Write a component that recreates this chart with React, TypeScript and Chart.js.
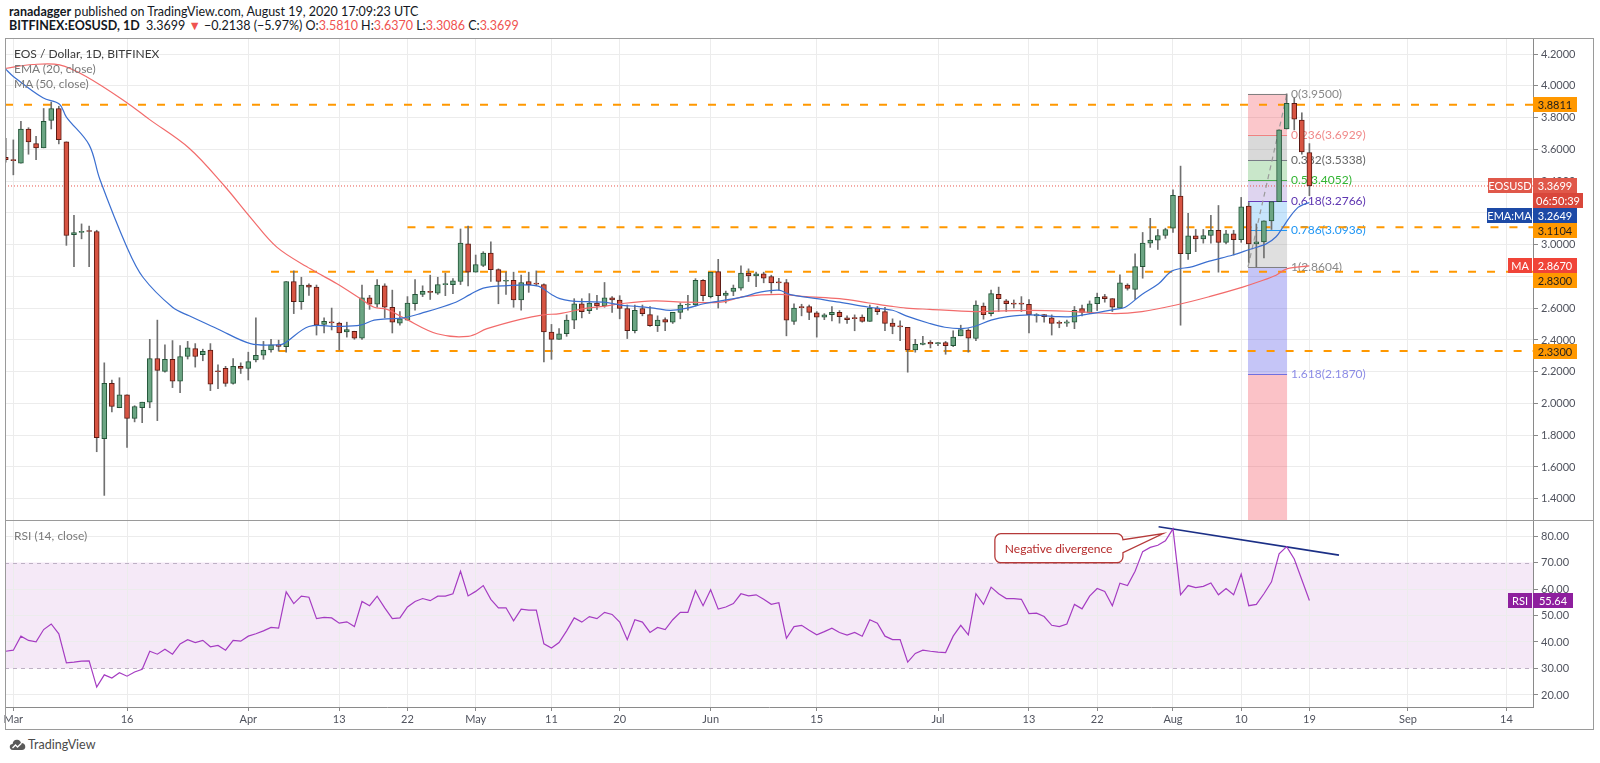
import React, { useEffect, useRef } from "react";
import { Chart, registerables } from "chart.js";

Chart.register(...registerables);

const FONT = "Lato, 'Open Sans', 'Liberation Sans', sans-serif";
Chart.defaults.font.family = FONT;

// ---- DATA (day 0 = 1 Mar 2020, first candle = 29 Feb 2020) ----
const FIRST_DAY = -1;

const opens = [
  3.55, 3.535, 3.513, 3.729, 3.637, 3.61, 3.783, 3.858, 3.648, 3.064,
  3.077, 3.085, 3.083, 1.779, 2.127, 1.973, 2.054, 1.906, 1.973, 2.008,
  2.283, 2.202, 2.278, 2.14, 2.296, 2.345, 2.307, 2.337, 2.205, 2.221,
  2.127, 2.234, 2.221, 2.275, 2.304, 2.337, 2.369, 2.358, 2.768, 2.641,
  2.746, 2.733, 2.498, 2.512, 2.506, 2.45, 2.455, 2.412, 2.665, 2.625,
  2.741, 2.606, 2.506, 2.525, 2.628, 2.687, 2.706, 2.695, 2.749, 2.749,
  2.768, 3.005, 2.827, 2.87, 2.948, 2.843, 2.77, 2.776, 2.652, 2.768,
  2.754, 2.749, 2.45, 2.404, 2.439, 2.525, 2.628, 2.585, 2.633, 2.614,
  2.665, 2.652, 2.598, 2.458, 2.598, 2.56, 2.49, 2.528, 2.512, 2.574,
  2.62, 2.62, 2.776, 2.673, 2.83, 2.681, 2.706, 2.727, 2.821, 2.803,
  2.816, 2.8, 2.762, 2.762, 2.517, 2.606, 2.611, 2.571, 2.544, 2.56,
  2.574, 2.539, 2.536, 2.544, 2.517, 2.601, 2.579, 2.506, 2.483, 2.479,
  2.337, 2.372, 2.385, 2.377, 2.383, 2.364, 2.426, 2.463, 2.409, 2.614,
  2.566, 2.687, 2.646, 2.628, 2.628, 2.625, 2.552, 2.56, 2.539, 2.506,
  2.506, 2.512, 2.598, 2.571, 2.628, 2.673, 2.66, 2.601, 2.745, 2.719,
  2.862, 3.01, 3.029, 3.058, 3.104, 3.306, 2.943, 3.056, 3.037, 3.058,
  3.091, 3.015, 3.069, 3.031, 3.244, 3.005, 3.018, 3.15, 3.271, 3.729,
  3.89, 3.785, 3.581,
];
const highs = [
  3.67, 3.66, 3.777, 3.737, 3.683, 3.858, 3.898, 3.872, 3.648, 3.185,
  3.131, 3.118, 3.091, 2.256, 2.148, 2.162, 2.054, 1.986, 2.008, 2.404,
  2.525, 2.369, 2.396, 2.364, 2.391, 2.377, 2.342, 2.377, 2.243, 2.234,
  2.283, 2.256, 2.323, 2.539, 2.391, 2.404, 2.399, 2.768, 2.835, 2.795,
  2.754, 2.746, 2.539, 2.601, 2.512, 2.512, 2.455, 2.746, 2.681, 2.781,
  2.754, 2.714, 2.579, 2.673, 2.781, 2.741, 2.808, 2.795, 2.821, 2.787,
  3.099, 3.118, 2.935, 2.956, 3.018, 2.848, 2.827, 2.827, 2.808, 2.827,
  2.835, 2.754, 2.498, 2.471, 2.558, 2.66, 2.66, 2.692, 2.681, 2.762,
  2.673, 2.679, 2.62, 2.62, 2.62, 2.611, 2.552, 2.539, 2.574, 2.633,
  2.681, 2.786, 2.781, 2.827, 2.908, 2.708, 2.746, 2.867, 2.848, 2.827,
  2.827, 2.808, 2.789, 2.781, 2.628, 2.625, 2.62, 2.579, 2.566, 2.611,
  2.585, 2.552, 2.558, 2.558, 2.62, 2.611, 2.606, 2.533, 2.52, 2.479,
  2.404, 2.423, 2.396, 2.385, 2.391, 2.458, 2.493, 2.471, 2.646, 2.633,
  2.714, 2.733, 2.655, 2.652, 2.673, 2.655, 2.566, 2.56, 2.558, 2.52,
  2.525, 2.611, 2.62, 2.646, 2.695, 2.687, 2.66, 2.81, 2.754, 2.943,
  3.077, 3.166, 3.096, 3.104, 3.346, 3.495, 3.198, 3.096, 3.096, 3.185,
  3.247, 3.091, 3.091, 3.298, 3.266, 3.131, 3.15, 3.271, 3.723, 3.95,
  3.925, 3.831, 3.637,
];
const lows = [
  3.52, 3.44, 3.513, 3.57, 3.535, 3.61, 3.729, 3.635, 2.996, 2.862,
  3.037, 2.862, 1.696, 1.421, 1.946, 1.973, 1.723, 1.884, 1.879, 1.973,
  1.892, 2.197, 2.1, 2.068, 2.28, 2.229, 2.269, 2.081, 2.094, 2.108,
  2.121, 2.189, 2.148, 2.261, 2.278, 2.323, 2.33, 2.323, 2.566, 2.593,
  2.681, 2.431, 2.444, 2.463, 2.337, 2.418, 2.404, 2.404, 2.593, 2.606,
  2.539, 2.444, 2.493, 2.525, 2.587, 2.673, 2.655, 2.687, 2.679, 2.692,
  2.749, 2.741, 2.827, 2.862, 2.768, 2.628, 2.687, 2.606, 2.587, 2.7,
  2.741, 2.261, 2.278, 2.404, 2.423, 2.471, 2.539, 2.566, 2.593, 2.606,
  2.574, 2.533, 2.409, 2.444, 2.552, 2.485, 2.453, 2.458, 2.504, 2.533,
  2.587, 2.614, 2.646, 2.665, 2.601, 2.633, 2.679, 2.714, 2.768, 2.735,
  2.76, 2.695, 2.714, 2.426, 2.498, 2.552, 2.528, 2.418, 2.528, 2.52,
  2.506, 2.504, 2.458, 2.512, 2.517, 2.56, 2.458, 2.439, 2.396, 2.197,
  2.323, 2.369, 2.35, 2.364, 2.31, 2.358, 2.426, 2.323, 2.396, 2.531,
  2.552, 2.579, 2.579, 2.601, 2.579, 2.444, 2.512, 2.512, 2.431, 2.477,
  2.485, 2.471, 2.552, 2.566, 2.585, 2.638, 2.579, 2.601, 2.714, 2.655,
  2.789, 2.983, 2.97, 3.04, 3.077, 2.493, 2.908, 2.956, 3.01, 3.01,
  2.827, 3.005, 2.935, 3.015, 2.889, 2.8604, 2.916, 3.096, 3.271, 3.729,
  3.723, 3.57, 3.3086,
];
const closes = [
  3.535, 3.53, 3.729, 3.648, 3.61, 3.777, 3.858, 3.661, 3.058, 3.077,
  3.085, 3.083, 1.785, 2.127, 1.981, 2.054, 1.906, 1.981, 2.008, 2.283,
  2.208, 2.278, 2.14, 2.296, 2.35, 2.296, 2.329, 2.121, 2.2, 2.127,
  2.234, 2.221, 2.264, 2.304, 2.337, 2.369, 2.36, 2.768, 2.641, 2.746,
  2.733, 2.493, 2.517, 2.508, 2.444, 2.466, 2.412, 2.665, 2.625, 2.746,
  2.606, 2.512, 2.533, 2.633, 2.687, 2.706, 2.7, 2.749, 2.752, 2.773,
  3.01, 2.827, 2.875, 2.948, 2.843, 2.768, 2.773, 2.652, 2.762, 2.749,
  2.752, 2.45, 2.404, 2.439, 2.525, 2.628, 2.579, 2.633, 2.614, 2.665,
  2.652, 2.598, 2.458, 2.587, 2.566, 2.49, 2.525, 2.512, 2.574, 2.62,
  2.622, 2.776, 2.679, 2.827, 2.679, 2.695, 2.727, 2.821, 2.803, 2.816,
  2.789, 2.76, 2.76, 2.525, 2.601, 2.604, 2.574, 2.544, 2.558, 2.574,
  2.547, 2.528, 2.534, 2.517, 2.601, 2.579, 2.504, 2.485, 2.482, 2.337,
  2.372, 2.38, 2.375, 2.378, 2.364, 2.418, 2.466, 2.412, 2.62, 2.56,
  2.692, 2.66, 2.628, 2.626, 2.626, 2.56, 2.56, 2.547, 2.504, 2.504,
  2.515, 2.587, 2.574, 2.628, 2.668, 2.66, 2.606, 2.76, 2.725, 2.862,
  3.01, 3.029, 3.058, 3.096, 3.311, 2.943, 3.056, 3.037, 3.058, 3.091,
  3.015, 3.069, 3.031, 3.239, 3.005, 3.018, 3.15, 3.271, 3.723, 3.89,
  3.791, 3.5837, 3.3699,
];

const rsiValues = [
  36.5, 36.9, 42.2, 40.6, 40.1, 44.7, 46.8, 43.1, 32.1, 32.4,
  32.8, 32.9, 23.0, 27.6, 26.4, 28.4, 27.1, 28.7, 29.7, 36.5,
  35.4, 37.3, 35.4, 39.3, 40.9, 39.8, 40.6, 38.2, 38.7, 36.9,
  40.6, 40.3, 42.2, 43.1, 44.2, 45.5, 45.2, 58.9, 54.5, 57.3,
  56.9, 48.8, 49.3, 49.1, 47.1, 47.6, 45.8, 55.3, 53.7, 57.3,
  52.9, 48.8, 49.1, 53.2, 55.3, 56.4, 55.6, 57.3, 57.3, 58.2,
  66.7, 57.4, 59.1, 61.3, 56.1, 52.9, 52.9, 48.0, 52.4, 52.0,
  52.0, 39.3, 37.7, 39.8, 44.2, 49.1, 47.5, 49.6, 48.8, 51.2,
  50.4, 47.5, 40.9, 48.4, 47.5, 43.6, 45.5, 44.7, 48.4, 51.2,
  51.2, 59.4, 53.7, 59.7, 52.4, 53.2, 54.5, 58.2, 57.4, 57.8,
  56.1, 54.2, 54.8, 41.4, 45.8, 46.3, 44.4, 42.7, 43.9, 45.2,
  43.6, 42.6, 43.6, 42.2, 48.4, 47.1, 42.2, 40.9, 40.9, 32.4,
  35.7, 36.9, 36.5, 36.2, 36.0, 42.2, 46.3, 42.7, 58.2, 54.2,
  60.7, 58.2, 56.4, 56.4, 56.1, 50.7, 50.9, 49.6, 46.3, 45.8,
  46.8, 54.2, 52.5, 57.3, 60.2, 59.1, 53.7, 62.2, 61.3, 66.7,
  74.1, 75.7, 76.5, 78.2, 82.7, 57.8, 61.3, 60.5, 61.0, 62.3,
  57.8, 60.2, 57.8, 65.6, 53.7, 54.2, 58.2, 62.7, 73.3, 76.0,
  71.3, 63.5, 55.64,
];

// EMA(20) (day, value)
const emaDays = [
  -1.1, 0, 3.9, 6.1, 7.0, 10.0, 11.4, 15.0, 17.1, 21.0, 23.2, 26.9, 31.3, 34.8, 35.7,
  39.0, 42.7, 45.8, 47.6, 49.3, 51.5, 53.7, 58.1, 60.3, 62.0, 64.7, 69.1, 71.0, 72.1,
  73.5, 75.7, 77.9, 80.1, 82.3, 84.5, 86.7, 88.9, 91.1, 93.3, 96.4, 98.4, 101.0, 102.4,
  106.0, 109.0, 112.9, 116.0, 117.8, 120.9, 122.9, 125.1, 126.8, 129.0, 131.2, 134.1,
  137.8, 139.6, 142.2, 145.3, 146.7, 148.9, 151.1, 152.9, 155.6, 157.8, 160.9, 163.1,
  165.3, 166.6, 167.5, 168.5, 169.5, 170.3, 171,
];
const emaValues = [
  4.11, 4.06, 3.925, 3.885, 3.804, 3.629, 3.414, 2.983, 2.795, 2.606, 2.552, 2.471, 2.377, 2.369, 2.377,
  2.485, 2.485, 2.493, 2.525, 2.533, 2.539, 2.566, 2.633, 2.687, 2.727, 2.741, 2.741, 2.687, 2.66,
  2.646, 2.641, 2.638, 2.62, 2.611, 2.601, 2.587, 2.601, 2.628, 2.646, 2.673, 2.7, 2.714, 2.687,
  2.66, 2.638, 2.606, 2.587, 2.552, 2.504, 2.48, 2.471, 2.485, 2.525, 2.547, 2.558,
  2.547, 2.547, 2.566, 2.593, 2.606, 2.687, 2.754, 2.835, 2.862, 2.897, 2.935, 2.97,
  3.005, 3.05, 3.11, 3.18, 3.235, 3.255, 3.2649,
];

// MA(50) (day, value)
const maDays = [
  -1.1, 2.6, 6.1, 9.6, 14.9, 17.9, 23.2, 27.8, 31.3, 34.8, 39.2, 42.7, 45.8, 47.6, 49.3,
  51.5, 55.9, 60.0, 62.5, 66.9, 69.9, 72.1, 75.7, 77.9, 80.1, 84.5, 88.9, 93.3, 96.4,
  101.0, 104.6, 109.0, 112.9, 116.0, 117.8, 120.9, 126.8, 134.1, 140.0, 145.3, 148.9,
  153.4, 157.8, 162.2, 164.4, 166.6, 168.0, 171,
];
const maValues = [
  4.11, 4.135, 4.133, 4.06, 3.898, 3.791, 3.608, 3.373, 3.171, 2.983, 2.848, 2.754, 2.66, 2.606, 2.593,
  2.539, 2.439, 2.423, 2.471, 2.53, 2.558, 2.566, 2.601, 2.611, 2.628, 2.646, 2.638, 2.638, 2.673,
  2.687, 2.673, 2.66, 2.633, 2.611, 2.601, 2.593, 2.579, 2.587, 2.579, 2.566, 2.579,
  2.62, 2.673, 2.733, 2.768, 2.808, 2.848, 2.867,
];

// horizontal support / resistance lines
const levelValues = [3.8811, 3.1104, 2.83, 2.33];
const levelStartDays = [-1.1, 52, 34, 35];

// Fibonacci retracement
const fibHigh = 3.95;
const fibLow = 2.8604;
const fibStartDay = 162.9;
const fibEndDay = 168.05;
const fibRatios = [0, 0.236, 0.382, 0.5, 0.618, 0.786, 1, 1.618, 2.618];

// RSI divergence line
const divDays = [151.1, 174.9];
const divValues = [83.5, 72.8];

// axis ticks
const tickDays = [0, 15, 31, 43, 52, 61, 71, 80, 92, 106, 122, 134, 143, 153, 162, 171, 184, 197];
const tickLabels = ["Mar", "16", "Apr", "13", "22", "May", "11", "20", "Jun", "15", "Jul", "13", "22", "Aug", "10", "19", "Sep", "14"];
const priceTicks = [4.2, 4.0, 3.8, 3.6, 3.4, 3.2, 3.0, 2.8, 2.6, 2.4, 2.2, 2.0, 1.8, 1.6, 1.4];
const rsiTicks = [80, 70, 60, 50, 40, 30, 20];

// ---- VIEW SETTINGS ----
const X_MIN = -1.1;
const X_MAX = 200.5;
const Y_MIN = 1.266;
const Y_MAX = 4.302;
const R_MIN = 15.47;
const R_MAX = 86.04;
const AXIS_W = 67;

const GRID = "#ececec";
const AXIS_LINE = "#8a8a8a";
const TICK_TXT = "#50535e";
const UP_FILL = "#6ba583";
const UP_LINE = "#225437";
const DN_FILL = "#d75442";
const DN_LINE = "#5b1a13";
const WICK = "#707070";
const ORANGE = "#ff9800";

const fibFills = [
  "rgba(242, 54, 69, 0.28)",
  "rgba(128, 128, 128, 0.30)",
  "rgba(76, 175, 80, 0.30)",
  "rgba(103, 58, 183, 0.22)",
  "rgba(33, 150, 243, 0.25)",
  "rgba(128, 128, 128, 0.25)",
  "rgba(80, 80, 230, 0.33)",
  "rgba(242, 54, 69, 0.30)",
];
const fibLineColors = ["#808080", "#f28080", "#787b86", "#4caf50", "#673ab7", "#2196f3", "#808080", "#7070e0"];
const fibTextColors = ["#888888", "#f08a8a", "#666666", "#32b432", "#5e35b1", "#2196f3", "#888888", "#8c8ce6"];

function fibValue(r: number) {
  return fibHigh - r * (fibHigh - fibLow);
}

function drawTag(ctx: any, x: number, cy: number, w: number, bg: string, fg: string, text: string) {
  const h = 15;
  ctx.fillStyle = bg;
  ctx.fillRect(x, Math.round(cy - h / 2), w, h);
  ctx.fillStyle = fg;
  ctx.font = `11px ${FONT}`;
  ctx.textAlign = "center";
  ctx.textBaseline = "middle";
  ctx.fillText(text, x + w / 2, Math.round(cy - h / 2) + h / 2 + 0.5);
}

const mainPlugin = {
  id: "mainExtras",
  beforeDatasetsDraw(chart: any) {
    const { ctx, chartArea: a, scales } = chart;
    const x = scales.x;
    const y = scales.y;
    const x0 = x.getPixelForValue(fibStartDay);
    const x1 = x.getPixelForValue(fibEndDay);
    ctx.save();
    ctx.beginPath();
    ctx.rect(a.left, a.top, a.right - a.left, a.bottom - a.top);
    ctx.clip();
    for (let i = 0; i < fibRatios.length - 1; i++) {
      const p0 = y.getPixelForValue(fibValue(fibRatios[i]));
      const p1 = y.getPixelForValue(fibValue(fibRatios[i + 1]));
      ctx.fillStyle = fibFills[i];
      ctx.fillRect(x0, p0, x1 - x0, p1 - p0);
    }
    for (let i = 0; i < fibRatios.length - 1; i++) {
      const p = Math.round(y.getPixelForValue(fibValue(fibRatios[i]))) + 0.5;
      ctx.strokeStyle = fibLineColors[i];
      ctx.lineWidth = 1;
      ctx.beginPath();
      ctx.moveTo(x0, p);
      ctx.lineTo(x1, p);
      ctx.stroke();
    }
    ctx.font = `12px ${FONT}`;
    ctx.textAlign = "left";
    ctx.textBaseline = "middle";
    for (let i = 0; i < fibRatios.length - 1; i++) {
      const v = fibValue(fibRatios[i]);
      ctx.fillStyle = fibTextColors[i];
      ctx.fillText(`${fibRatios[i]}(${v.toFixed(4)})`, x1 + 4, y.getPixelForValue(v));
    }
    ctx.restore();
  },
  afterDraw(chart: any) {
    const { ctx, chartArea: a, scales } = chart;
    const y = scales.y;
    const right = a.right;
    const lastClose = closes[closes.length - 1];
    const lastEma = emaValues[emaValues.length - 1];
    const lastMa = maValues[maValues.length - 1];
    const tags = [
      { v: levelValues[0], bg: ORANGE, fg: "#1e1e1e", side: "", sideW: 0, extra: false },
      { v: lastClose, bg: "#e0584a", fg: "#ffffff", side: "EOSUSD", sideW: 44, extra: true },
      { v: lastEma, bg: "#1d4aa6", fg: "#ffffff", side: "EMA:MA", sideW: 45, extra: false },
      { v: levelValues[1], bg: ORANGE, fg: "#1e1e1e", side: "", sideW: 0, extra: false },
      { v: lastMa, bg: "#f04438", fg: "#ffffff", side: "MA", sideW: 24, extra: false },
      { v: levelValues[2], bg: ORANGE, fg: "#1e1e1e", side: "", sideW: 0, extra: false },
      { v: levelValues[3], bg: ORANGE, fg: "#1e1e1e", side: "", sideW: 0, extra: false },
    ];
    let nextFree = -1000;
    ctx.save();
    tags.forEach((t) => {
      const py = y.getPixelForValue(t.v);
      const cy = Math.max(py, nextFree + 7.5);
      drawTag(ctx, right, cy, 44, t.bg, t.fg, t.v.toFixed(4));
      if (t.side) {
        drawTag(ctx, right - t.sideW - 1, cy, t.sideW, t.bg, t.fg, t.side);
      }
      nextFree = cy + 7.5;
      if (t.extra) {
        drawTag(ctx, right, cy + 15, 50, "#d9473b", "#ffffff", "06:50:39");
        nextFree = cy + 22.5;
      }
    });
    ctx.restore();
  },
};

const rsiPlugin = {
  id: "rsiExtras",
  beforeDraw(chart: any) {
    const { ctx, chartArea: a, scales } = chart;
    const y = scales.y;
    const p70 = y.getPixelForValue(70);
    const p30 = y.getPixelForValue(30);
    ctx.save();
    ctx.fillStyle = "rgba(155, 39, 176, 0.10)";
    ctx.fillRect(a.left, p70, a.right - a.left, p30 - p70);
    ctx.restore();
  },
  beforeDatasetsDraw(chart: any) {
    const { ctx, chartArea: a, scales } = chart;
    const y = scales.y;
    ctx.save();
    ctx.strokeStyle = "#bdb0c4";
    ctx.lineWidth = 1;
    ctx.setLineDash([4, 4]);
    [70, 30].forEach((v) => {
      const p = Math.round(y.getPixelForValue(v)) + 0.5;
      ctx.beginPath();
      ctx.moveTo(a.left, p);
      ctx.lineTo(a.right, p);
      ctx.stroke();
    });
    ctx.restore();
  },
  afterDatasetsDraw(chart: any) {
    const { ctx, scales } = chart;
    const x = scales.x;
    const y = scales.y;
    // "Negative divergence" callout
    const bx0 = x.getPixelForValue(129.5);
    const bx1 = x.getPixelForValue(146.4);
    const by0 = y.getPixelForValue(80.87);
    const by1 = y.getPixelForValue(69.9);
    const tx = x.getPixelForValue(151.7);
    const ty = y.getPixelForValue(80.9);
    const r = 6;
    ctx.save();
    ctx.beginPath();
    ctx.moveTo(bx0 + r, by0);
    ctx.lineTo(bx1 - r, by0);
    ctx.arcTo(bx1, by0, bx1, by0 + r, r);
    ctx.lineTo(bx1, by0 + 6);
    ctx.lineTo(tx, ty);
    ctx.lineTo(bx1, by0 + 19);
    ctx.lineTo(bx1, by1 - r);
    ctx.arcTo(bx1, by1, bx1 - r, by1, r);
    ctx.lineTo(bx0 + r, by1);
    ctx.arcTo(bx0, by1, bx0, by1 - r, r);
    ctx.lineTo(bx0, by0 + r);
    ctx.arcTo(bx0, by0, bx0 + r, by0, r);
    ctx.closePath();
    ctx.fillStyle = "#ffffff";
    ctx.fill();
    ctx.strokeStyle = "#b53a3a";
    ctx.lineWidth = 1.3;
    ctx.stroke();
    ctx.fillStyle = "#b52a2a";
    ctx.font = `12px ${FONT}`;
    ctx.textAlign = "left";
    ctx.textBaseline = "middle";
    ctx.fillText("Negative divergence", bx0 + 10, (by0 + by1) / 2 + 0.5);
    ctx.restore();
  },
  afterDraw(chart: any) {
    const { ctx, chartArea: a, scales } = chart;
    const y = scales.y;
    const last = rsiValues[rsiValues.length - 1];
    const cy = y.getPixelForValue(last);
    ctx.save();
    drawTag(ctx, a.right, cy, 40, "#8e1f9e", "#ffffff", last.toFixed(2));
    drawTag(ctx, a.right - 25, cy, 24, "#8e1f9e", "#ffffff", "RSI");
    ctx.restore();
  },
};

function zeroPad(s: any) {
  s.paddingLeft = 0;
  s.paddingRight = 0;
  s.paddingTop = 0;
  s.paddingBottom = 0;
}

function xScale(showLabels: boolean) {
  return {
    type: "linear",
    min: X_MIN,
    max: X_MAX,
    offset: false,
    afterBuildTicks: (s: any) => {
      s.ticks = tickDays.map((v) => ({ value: v }));
    },
    ticks: {
      display: showLabels,
      autoSkip: false,
      maxRotation: 0,
      minRotation: 0,
      padding: 2,
      color: TICK_TXT,
      font: { size: 11, family: FONT },
      callback: (v: any) => {
        const i = tickDays.indexOf(Number(v));
        return i >= 0 ? tickLabels[i] : "";
      },
    },
    grid: {
      color: GRID,
      offset: false,
      drawTicks: showLabels,
      tickLength: 4,
      tickColor: AXIS_LINE,
    },
    border: { display: showLabels, color: AXIS_LINE },
    afterFit: (s: any) => {
      s.height = showLabels ? 23 : 0;
      zeroPad(s);
    },
  };
}

function buildMainConfig(): any {
  const wickData = opens.map((_, i) => ({ x: FIRST_DAY + i, y: [lows[i], highs[i]] }));
  const bodyData = opens.map((o, i) => ({ x: FIRST_DAY + i, y: [o, closes[i]] }));
  const isUp = opens.map((o, i) => closes[i] >= o);
  const lastClose = closes[closes.length - 1];
  return {
    type: "bar",
    data: {
      datasets: [
        {
          type: "line",
          data: emaDays.map((d, i) => ({ x: d, y: emaValues[i] })),
          borderColor: "#3b6fd0",
          borderWidth: 1.2,
          pointRadius: 0,
          tension: 0.35,
          order: -2,
        },
        {
          type: "line",
          data: maDays.map((d, i) => ({ x: d, y: maValues[i] })),
          borderColor: "#f26b6b",
          borderWidth: 1.2,
          pointRadius: 0,
          tension: 0.35,
          order: -1,
        },
        ...levelValues.map((v, i) => ({
          type: "line",
          data: [
            { x: levelStartDays[i], y: v },
            { x: X_MAX, y: v },
          ],
          borderColor: ORANGE,
          borderWidth: 2,
          borderDash: [8, 11],
          pointRadius: 0,
          order: 5,
        })),
        {
          type: "line",
          data: [
            { x: X_MIN, y: lastClose },
            { x: X_MAX, y: lastClose },
          ],
          borderColor: "#e8544a",
          borderWidth: 1,
          borderDash: [1, 2],
          pointRadius: 0,
          order: 6,
        },
        {
          type: "line",
          data: [
            { x: fibStartDay, y: fibLow },
            { x: fibEndDay, y: fibHigh },
          ],
          borderColor: "#9a9a9a",
          borderWidth: 1.2,
          borderDash: [5, 4],
          pointRadius: 0,
          order: 3,
        },
        {
          type: "bar",
          data: wickData,
          backgroundColor: WICK,
          barThickness: 1,
          grouped: false,
          order: 2,
        },
        {
          type: "bar",
          data: bodyData,
          backgroundColor: isUp.map((u) => (u ? UP_FILL : DN_FILL)),
          borderColor: isUp.map((u) => (u ? UP_LINE : DN_LINE)),
          borderWidth: 1,
          borderSkipped: false,
          barThickness: 5,
          minBarLength: 1,
          grouped: false,
          order: 1,
        },
      ],
    },
    options: {
      responsive: false,
      animation: false,
      events: [],
      layout: { padding: { left: 5, right: 0, top: 0, bottom: 0 } },
      plugins: { legend: { display: false }, tooltip: { enabled: false } },
      scales: {
        x: xScale(false),
        y: {
          type: "linear",
          position: "right",
          min: Y_MIN,
          max: Y_MAX,
          afterBuildTicks: (s: any) => {
            s.ticks = priceTicks.map((v) => ({ value: v }));
          },
          ticks: {
            color: TICK_TXT,
            font: { size: 11, family: FONT },
            padding: 3,
            callback: (v: any) => Number(v).toFixed(4),
          },
          grid: { color: GRID, tickLength: 5, tickColor: AXIS_LINE },
          border: { display: true, color: AXIS_LINE },
          afterFit: (s: any) => {
            s.width = AXIS_W;
            zeroPad(s);
          },
        },
      },
    },
    plugins: [mainPlugin],
  };
}

function buildRsiConfig(): any {
  return {
    type: "line",
    data: {
      datasets: [
        {
          data: rsiValues.map((v, i) => ({ x: FIRST_DAY + i, y: v })),
          borderColor: "#a53cc2",
          borderWidth: 1.2,
          pointRadius: 0,
          tension: 0,
        },
        {
          data: divDays.map((d, i) => ({ x: d, y: divValues[i] })),
          borderColor: "#1b2f86",
          borderWidth: 1.7,
          pointRadius: 0,
        },
      ],
    },
    options: {
      responsive: false,
      animation: false,
      events: [],
      layout: { padding: { left: 5, right: 0, top: 0, bottom: 0 } },
      plugins: { legend: { display: false }, tooltip: { enabled: false } },
      scales: {
        x: xScale(true),
        y: {
          type: "linear",
          position: "right",
          min: R_MIN,
          max: R_MAX,
          afterBuildTicks: (s: any) => {
            s.ticks = rsiTicks.map((v) => ({ value: v }));
          },
          ticks: {
            color: TICK_TXT,
            font: { size: 11, family: FONT },
            padding: 3,
            callback: (v: any) => Number(v).toFixed(2),
          },
          grid: {
            color: (c: any) => (c.tick && (c.tick.value === 70 || c.tick.value === 30) ? "rgba(0,0,0,0)" : GRID),
            tickLength: 5,
            tickColor: AXIS_LINE,
          },
          border: { display: true, color: AXIS_LINE },
          afterFit: (s: any) => {
            s.width = AXIS_W;
            zeroPad(s);
          },
        },
      },
    },
    plugins: [rsiPlugin],
  };
}

const red = "#ef5350";

export default function App() {
  const mainRef = useRef<HTMLCanvasElement>(null);
  const rsiRef = useRef<HTMLCanvasElement>(null);

  useEffect(() => {
    const c1 = new Chart(mainRef.current as HTMLCanvasElement, buildMainConfig());
    const c2 = new Chart(rsiRef.current as HTMLCanvasElement, buildRsiConfig());
    return () => {
      c1.destroy();
      c2.destroy();
    };
  }, []);

  const txt: any = { position: "absolute", whiteSpace: "nowrap", fontSize: 12, lineHeight: "15px" };

  return (
    <div
      style={{
        position: "absolute",
        left: 0,
        top: 0,
        width: 1600,
        height: 763,
        background: "#ffffff",
        overflow: "hidden",
        fontFamily: FONT,
        color: "#131722",
      }}
    >
      <div style={{ ...txt, left: 9, top: 4, fontSize: 12.5 }}>
        <b>ranadagger</b> published on TradingView.com, August 19, 2020 17:09:23 UTC
      </div>
      <div style={{ ...txt, left: 9, top: 18, fontSize: 12.5 }}>
        <b>BITFINEX:EOSUSD, 1D</b>&nbsp; 3.3699 <span style={{ color: red }}>▼</span> −0.2138 (−5.97%) O:
        <span style={{ color: red }}>3.5810</span> H:<span style={{ color: red }}>3.6370</span> L:
        <span style={{ color: red }}>3.3086</span> C:<span style={{ color: red }}>3.3699</span>
      </div>

      <canvas
        ref={mainRef}
        width={1600}
        height={482}
        style={{ position: "absolute", left: 0, top: 38, width: 1600, height: 482 }}
      />
      <canvas
        ref={rsiRef}
        width={1600}
        height={210}
        style={{ position: "absolute", left: 0, top: 520, width: 1600, height: 210 }}
      />

      {/* frame and panel separator */}
      <div
        style={{
          position: "absolute",
          left: 5,
          top: 38,
          width: 1589,
          height: 692,
          border: "1px solid #9a9a9a",
          boxSizing: "border-box",
          pointerEvents: "none",
        }}
      />
      <div style={{ position: "absolute", left: 5, top: 520, width: 1589, height: 1, background: "#9a9a9a" }} />

      {/* legends */}
      <div style={{ ...txt, left: 14, top: 46, color: "#3b3b3b" }}>EOS / Dollar, 1D, BITFINEX</div>
      <div style={{ ...txt, left: 14, top: 61, color: "#7a7a7a" }}>EMA (20, close)</div>
      <div style={{ ...txt, left: 14, top: 76, color: "#7a7a7a" }}>MA (50, close)</div>
      <div style={{ ...txt, left: 14, top: 528, color: "#7a7a7a" }}>RSI (14, close)</div>

      {/* footer */}
      <svg style={{ position: "absolute", left: 9, top: 737 }} width="17" height="14" viewBox="0 0 17 14">
        <path
          d="M4 13 C1.5 13 0.5 11 0.8 9.2 C1.1 7.6 2.4 6.8 3.6 6.9 C3.8 4.2 5.8 2.6 8.2 2.8 C10.3 3 11.6 4.4 12 6.1 C14.4 5.9 16.4 7.6 16.3 10 C16.2 11.8 14.8 13 13 13 Z"
          fill="#5a5a5a"
        />
        <path d="M3.5 11 L6.5 8 L8.5 10 L12.5 6.2" stroke="#ffffff" strokeWidth="1.3" fill="none" />
      </svg>
      <div style={{ ...txt, left: 28, top: 737, color: "#4a4a4a", fontSize: 12.5 }}>TradingView</div>
    </div>
  );
}
